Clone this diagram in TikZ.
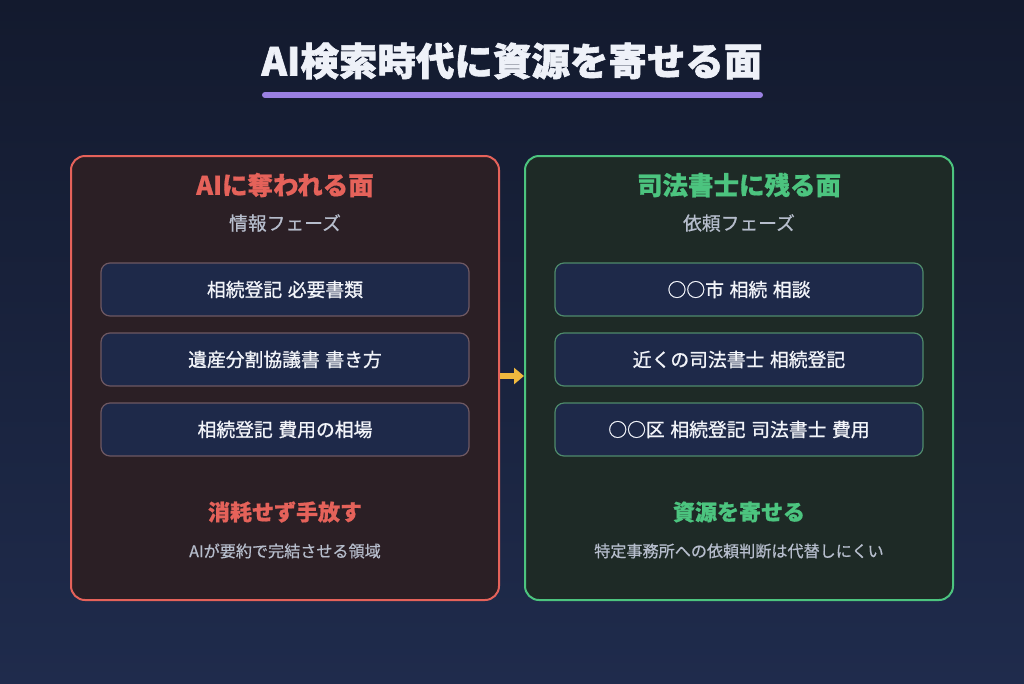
\documentclass[tikz,border=0pt]{standalone}
\usepackage{fontspec}
\setmainfont{Noto Sans CJK JP}
\newfontfamily\heavyfont{Noto Sans CJK JP}[BoldFeatures={FakeBold=1.6}]
\newfontfamily\semifont{Noto Sans CJK JP}[BoldFeatures={FakeBold=0.6}]
\newfontfamily\medfont{Noto Sans CJK JP}[FakeBold=1.0]
\newfontfamily\lightfont{Noto Sans CJK JP}[FakeBold=0.6]
\usetikzlibrary{arrows.meta}
\definecolor{bgtop}{HTML}{131A2E}
\definecolor{bgbot}{HTML}{1F2B4C}
\definecolor{titlec}{HTML}{EEF1F8}
\definecolor{barc}{HTML}{9A80E2}
\definecolor{redc}{HTML}{E5625A}
\definecolor{redfill}{HTML}{2B1F25}
\definecolor{greenc}{HTML}{4CC47F}
\definecolor{greenfill}{HTML}{1E2A26}
\definecolor{itemfill}{HTML}{1E2949}
\definecolor{rededge}{HTML}{6E5862}
\definecolor{greenedge}{HTML}{4E8A6B}
\definecolor{subc}{HTML}{B6BDCC}
\definecolor{itemtext}{HTML}{F2F4F9}
\definecolor{arrowc}{HTML}{F0B93E}
\tikzset{
  panel/.style={rounded corners=14pt, line width=2pt},
  itembox/.style={rounded corners=9pt, line width=1.2pt, fill=itemfill,
    minimum width=368pt, minimum height=53pt, inner sep=0pt,
    text=itemtext, font=\medfont\fontsize{18.8}{22}\selectfont},
  headtext/.style={font=\semifont\bfseries\fontsize{25.5}{30}\selectfont},
  phasetext/.style={text=subc, font=\lightfont\fontsize{18.8}{22}\selectfont},
  foottitle/.style={font=\semifont\bfseries\fontsize{22}{26}\selectfont},
  footnote/.style={text=subc, font=\lightfont\fontsize{16.1}{19}\selectfont},
}
\begin{document}
\begin{tikzpicture}[x=1pt,y=-1pt]
  % background
  \shade[top color=bgtop, bottom color=bgbot] (0,0) rectangle (1024,683);
  \useasboundingbox (0,0) rectangle (1024,683);

  % heading with underline bar
  \node[text=titlec, font=\heavyfont\bfseries\fontsize{38.5}{44}\selectfont] (title) at (512,61) {AI検索時代に資源を寄せる面};
  \draw[barc, line width=6pt, line cap=round] (265,95) -- (760,95);

  % left panel
  \node[panel, draw=redc, fill=redfill, minimum width=428pt, minimum height=444pt, inner sep=0pt] (left) at (285,378) {};
  \node[headtext, text=redc] (lhead) at (285,185) {AIに奪われる面};
  \node[phasetext] (lphase) at (285,223) {情報フェーズ};
  \node[itembox, draw=rededge] (l1) at (285,289.5) {相続登記\hspace{0.3em}必要書類};
  \node[itembox, draw=rededge] (l2) at (285,359.5) {遺産分割協議書\hspace{0.3em}書き方};
  \node[itembox, draw=rededge] (l3) at (285,429.5) {相続登記\hspace{0.3em}費用の相場};
  \node[foottitle, text=redc] (lfoot) at (285,512) {消耗せず手放す};
  \node[footnote] (lnote) at (285,551) {AIが要約で完結させる領域};

  % right panel
  \node[panel, draw=greenc, fill=greenfill, minimum width=428pt, minimum height=444pt, inner sep=0pt] (right) at (739,378) {};
  \node[headtext, text=greenc] (rhead) at (739,185) {司法書士に残る面};
  \node[phasetext] (rphase) at (739,223) {依頼フェーズ};
  \node[itembox, draw=greenedge] (r1) at (739,289.5) {○○市\hspace{0.3em}相続\hspace{0.3em}相談};
  \node[itembox, draw=greenedge] (r2) at (739,359.5) {近くの司法書士\hspace{0.3em}相続登記};
  \node[itembox, draw=greenedge] (r3) at (739,429.5) {○○区\hspace{0.3em}相続登記\hspace{0.3em}司法書士\hspace{0.3em}費用};
  \node[foottitle, text=greenc] (rfoot) at (739,512) {資源を寄せる};
  \node[footnote] (rnote) at (739,551) {特定事務所への依頼判断は代替しにくい};

  % shift arrow between the panels
  \draw[arrowc, line width=6pt, -{Triangle[length=10pt,width=16pt]}]
    ([yshift=2pt]left.east) -- ([yshift=2pt]right.west);
\end{tikzpicture}
\end{document}
